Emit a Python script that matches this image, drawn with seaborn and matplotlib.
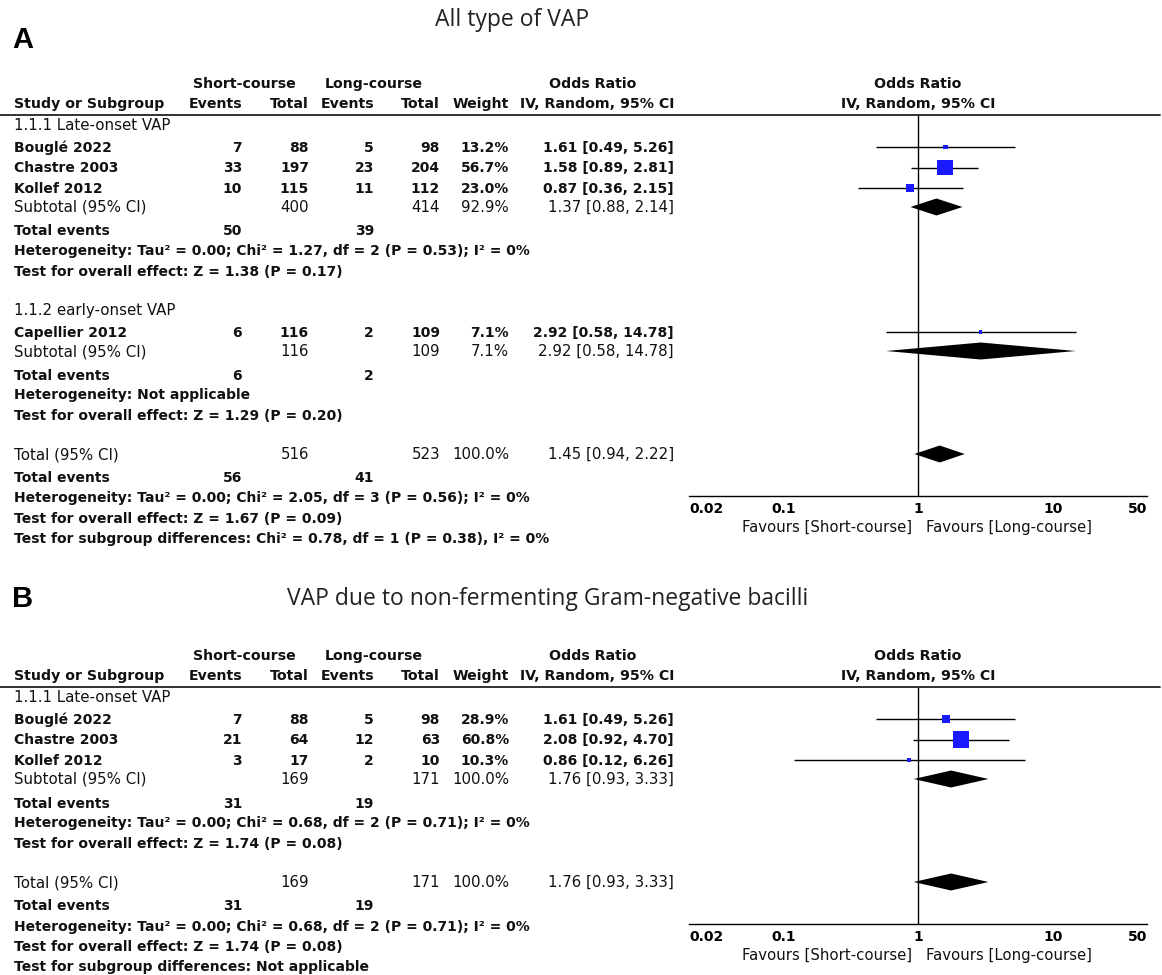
import matplotlib
matplotlib.use("Agg")
import matplotlib.pyplot as plt
from matplotlib.lines import Line2D
from matplotlib.ticker import FixedLocator, NullLocator
import seaborn as sns
import pandas as pd

# ---------------- data: panel A (all types of VAP) ----------------
a_group_labels = ["1.1.1 Late-onset VAP", "1.1.2 early-onset VAP"]
a_studies = [["Bouglé 2022", "Chastre 2003", "Kollef 2012"], ["Capellier 2012"]]
a_short_events = [[7, 33, 10], [6]]
a_short_total = [[88, 197, 115], [116]]
a_long_events = [[5, 23, 11], [2]]
a_long_total = [[98, 204, 112], [109]]
a_weight = [[13.2, 56.7, 23.0], [7.1]]
a_or = [[1.61, 1.58, 0.87], [2.92]]
a_lo = [[0.49, 0.89, 0.36], [0.58]]
a_hi = [[5.26, 2.81, 2.15], [14.78]]
a_sub_weight = [92.9, 7.1]
a_sub_or = [1.37, 2.92]
a_sub_lo = [0.88, 0.58]
a_sub_hi = [2.14, 14.78]
a_het = ["Heterogeneity: Tau² = 0.00; Chi² = 1.27, df = 2 (P = 0.53); I² = 0%",
         "Heterogeneity: Not applicable"]
a_effect = ["Test for overall effect: Z = 1.38 (P = 0.17)",
            "Test for overall effect: Z = 1.29 (P = 0.20)"]
a_total_or, a_total_lo, a_total_hi = 1.45, 0.94, 2.22
a_total_short, a_total_long = 516, 523
a_total_events_short, a_total_events_long = 56, 41
a_total_het = "Heterogeneity: Tau² = 0.00; Chi² = 2.05, df = 3 (P = 0.56); I² = 0%"
a_total_effect = "Test for overall effect: Z = 1.67 (P = 0.09)"
a_subgroup_diff = "Test for subgroup differences: Chi² = 0.78, df = 1 (P = 0.38), I² = 0%"

# ---------------- data: panel B (non-fermenting GNB) ----------------
b_group_labels = ["1.1.1 Late-onset VAP"]
b_studies = [["Bouglé 2022", "Chastre 2003", "Kollef 2012"]]
b_short_events = [[7, 21, 3]]
b_short_total = [[88, 64, 17]]
b_long_events = [[5, 12, 2]]
b_long_total = [[98, 63, 10]]
b_weight = [[28.9, 60.8, 10.3]]
b_or = [[1.61, 2.08, 0.86]]
b_lo = [[0.49, 0.92, 0.12]]
b_hi = [[5.26, 4.70, 6.26]]
b_sub_weight = [100.0]
b_sub_or = [1.76]
b_sub_lo = [0.93]
b_sub_hi = [3.33]
b_het = ["Heterogeneity: Tau² = 0.00; Chi² = 0.68, df = 2 (P = 0.71); I² = 0%"]
b_effect = ["Test for overall effect: Z = 1.74 (P = 0.08)"]
b_total_or, b_total_lo, b_total_hi = 1.76, 0.93, 3.33
b_total_short, b_total_long = 169, 171
b_total_events_short, b_total_events_long = 31, 19
b_total_het = "Heterogeneity: Tau² = 0.00; Chi² = 0.68, df = 2 (P = 0.71); I² = 0%"
b_total_effect = "Test for overall effect: Z = 1.74 (P = 0.08)"
b_subgroup_diff = "Test for subgroup differences: Not applicable"

axis_ticks = [0.02, 0.1, 1, 10, 50]
axis_tick_labels = ["0.02", "0.1", "1", "10", "50"]

# ---------------- figure setup ----------------
sns.set_style("white")
plt.rcParams["font.family"] = ["DejaVu Sans"]
W, H = 1162, 975
fig = plt.figure(figsize=(W / 100, H / 100), dpi=100)
INK = "#111111"
BLUE = "#1a1aff"

COL = dict(ev1=242, tot1=309, ev2=374, tot2=440, wt=509, ci=674)
PLOT_L, PLOT_R = 689, 1147
ONE_X = 918
SZ_REG, SZ_BOLD, SZ_HEAD = 10.8, 10.0, 10.2


def put(x, y, s, ha="left", bold=False, size=None, **kw):
    if size is None:
        size = SZ_BOLD if bold else SZ_REG
    fig.text(x / W, 1 - (y + 5) / H, s, ha=ha, va="baseline", fontsize=size,
             fontweight="bold" if bold else "normal", color=INK, **kw)


def fmt_ci(o, l, h):
    return f"{o:.2f} [{l:.2f}, {h:.2f}]"


def draw_panel(d, rule_y, letter, letter_y, title, title_x, title_base):
    # panel letter and title
    fig.text(12 / W, 1 - letter_y / H, letter, fontsize=21, fontweight="bold",
             family=["Liberation Sans", "DejaVu Sans"], ha="left", va="center", color="black")
    fig.text(title_x / W, 1 - title_base / H, title, fontsize=16.5,
             family=["Open Sans", "DejaVu Sans"], ha="center", va="baseline", color="#222222")

    # column headers
    h1, h2 = rule_y - 32, rule_y - 12
    put(244, h1, "Short-course", ha="center", bold=True, size=SZ_HEAD)
    put(374, h1, "Long-course", ha="center", bold=True, size=SZ_HEAD)
    put(593, h1, "Odds Ratio", ha="center", bold=True, size=SZ_HEAD)
    put(ONE_X, h1, "Odds Ratio", ha="center", bold=True, size=SZ_HEAD)
    put(14, h2, "Study or Subgroup", bold=True, size=SZ_HEAD)
    for key, lab in [("ev1", "Events"), ("tot1", "Total"), ("ev2", "Events"),
                     ("tot2", "Total"), ("wt", "Weight"), ("ci", "IV, Random, 95% CI")]:
        put(COL[key], h2, lab, ha="right", bold=True, size=SZ_HEAD)
    put(ONE_X, h2, "IV, Random, 95% CI", ha="center", bold=True, size=SZ_HEAD)
    fig.add_artist(Line2D([0, 1160 / W], [1 - rule_y / H] * 2, transform=fig.transFigure,
                          color="#222222", lw=1.3))

    study_rows, diamonds = [], []
    y = rule_y + 10
    for g in range(len(d["labels"])):
        put(14, y, d["labels"][g])
        y += 22
        for i, name in enumerate(d["studies"][g]):
            if i:
                y += 20.5
            put(14, y, name, bold=True)
            put(COL["ev1"], y, str(d["se"][g][i]), ha="right", bold=True)
            put(COL["tot1"], y, str(d["st"][g][i]), ha="right", bold=True)
            put(COL["ev2"], y, str(d["le"][g][i]), ha="right", bold=True)
            put(COL["tot2"], y, str(d["lt"][g][i]), ha="right", bold=True)
            put(COL["wt"], y, f"{d['w'][g][i]:.1f}%", ha="right", bold=True)
            put(COL["ci"], y, fmt_ci(d["or"][g][i], d["lo"][g][i], d["hi"][g][i]), ha="right", bold=True)
            study_rows.append((y, d["or"][g][i], d["lo"][g][i], d["hi"][g][i], d["w"][g][i]))
        y += 19
        put(14, y, "Subtotal (95% CI)")
        put(COL["tot1"], y, str(sum(d["st"][g])), ha="right")
        put(COL["tot2"], y, str(sum(d["lt"][g])), ha="right")
        put(COL["wt"], y, f"{d['sw'][g]:.1f}%", ha="right")
        put(COL["ci"], y, fmt_ci(d["sor"][g], d["slo"][g], d["shi"][g]), ha="right")
        diamonds.append((y, d["sor"][g], d["slo"][g], d["shi"][g]))
        y += 23.5
        put(14, y, "Total events", bold=True)
        put(COL["ev1"], y, str(sum(d["se"][g])), ha="right", bold=True)
        put(COL["ev2"], y, str(sum(d["le"][g])), ha="right", bold=True)
        y += 20
        put(14, y, d["het"][g], bold=True)
        y += 20.5
        put(14, y, d["eff"][g], bold=True)
        y += 39

    # overall
    total_y = y
    put(14, y, "Total (95% CI)")
    put(COL["tot1"], y, str(d["tshort"]), ha="right")
    put(COL["tot2"], y, str(d["tlong"]), ha="right")
    put(COL["wt"], y, "100.0%", ha="right")
    put(COL["ci"], y, fmt_ci(d["tor"], d["tlo"], d["thi"]), ha="right")
    diamonds.append((y, d["tor"], d["tlo"], d["thi"]))
    y += 23.5
    put(14, y, "Total events", bold=True)
    put(COL["ev1"], y, str(d["tes"]), ha="right", bold=True)
    put(COL["ev2"], y, str(d["tel"]), ha="right", bold=True)
    y += 20
    put(14, y, d["thet"], bold=True)
    y += 20.5
    put(14, y, d["teff"], bold=True)
    y += 20.5
    put(14, y, d["diff"], bold=True)

    # forest plot
    axis_y = total_y + 42
    ax = fig.add_axes([PLOT_L / W, 1 - axis_y / H, (PLOT_R - PLOT_L) / W, (axis_y - rule_y) / H])
    ax.set_xscale("log")
    ax.set_xlim(axis_ticks[0], axis_ticks[-1])
    ax.set_ylim(axis_y, rule_y)
    ax.patch.set_alpha(0)
    ax.axvline(1, color="black", lw=1, zorder=1)

    sdf = pd.DataFrame(study_rows, columns=["y", "or", "lo", "hi", "w"])
    ax.hlines(sdf["y"], sdf["lo"], sdf["hi"], color="black", lw=1, zorder=2)
    # square side grows with study weight
    side_pt = (1.7 + 0.244 * sdf["w"]) * 0.72
    sdf["area"] = side_pt ** 2
    amin, amax = sdf["area"].min(), sdf["area"].max()
    sns.scatterplot(data=sdf, x="or", y="y", size="area", sizes=(amin, amax),
                    size_norm=(amin, amax), marker="s", color=BLUE, edgecolor="none",
                    linewidth=0, legend=False, ax=ax, zorder=3)
    for (yy, o, l, h) in diamonds:
        ax.fill([l, o, h, o], [yy, yy - 8.5, yy, yy + 8.5], color="black", lw=0, zorder=3)

    ax.set_xlabel("")
    ax.set_ylabel("")
    ax.set_yticks([])
    for s in ["left", "right", "top"]:
        ax.spines[s].set_visible(False)
    ax.spines["bottom"].set_color("black")
    ax.spines["bottom"].set_linewidth(1)
    ax.xaxis.set_major_locator(FixedLocator(axis_ticks))
    ax.xaxis.set_minor_locator(NullLocator())
    ax.set_xticklabels(axis_tick_labels, fontweight="bold", fontsize=10, color=INK)
    ax.tick_params(axis="x", direction="in", length=6, width=1, pad=4, colors="black")
    labs = ax.get_xticklabels()
    labs[0].set_ha("left")
    labs[-1].set_ha("right")

    put(ONE_X - 6, axis_y + 31, "Favours [Short-course]", ha="right", size=10.7)
    put(ONE_X + 8, axis_y + 31, "Favours [Long-course]", ha="left", size=10.7)


panel_a = dict(labels=a_group_labels, studies=a_studies, se=a_short_events, st=a_short_total,
               le=a_long_events, lt=a_long_total, w=a_weight)
panel_a.update({"or": a_or, "lo": a_lo, "hi": a_hi, "sw": a_sub_weight, "sor": a_sub_or,
                "slo": a_sub_lo, "shi": a_sub_hi, "het": a_het, "eff": a_effect,
                "tshort": a_total_short, "tlong": a_total_long, "tor": a_total_or,
                "tlo": a_total_lo, "thi": a_total_hi, "tes": a_total_events_short,
                "tel": a_total_events_long, "thet": a_total_het, "teff": a_total_effect,
                "diff": a_subgroup_diff})
panel_b = dict(labels=b_group_labels, studies=b_studies, se=b_short_events, st=b_short_total,
               le=b_long_events, lt=b_long_total, w=b_weight)
panel_b.update({"or": b_or, "lo": b_lo, "hi": b_hi, "sw": b_sub_weight, "sor": b_sub_or,
                "slo": b_sub_lo, "shi": b_sub_hi, "het": b_het, "eff": b_effect,
                "tshort": b_total_short, "tlong": b_total_long, "tor": b_total_or,
                "tlo": b_total_lo, "thi": b_total_hi, "tes": b_total_events_short,
                "tel": b_total_events_long, "thet": b_total_het, "teff": b_total_effect,
                "diff": b_subgroup_diff})

draw_panel(panel_a, 115, "A", 40, "All type of VAP", 512, 26)
draw_panel(panel_b, 687, "B", 599, "VAP due to non-fermenting Gram-negative bacilli", 548, 605)

fig.savefig("out.png", dpi=100, facecolor="white")
